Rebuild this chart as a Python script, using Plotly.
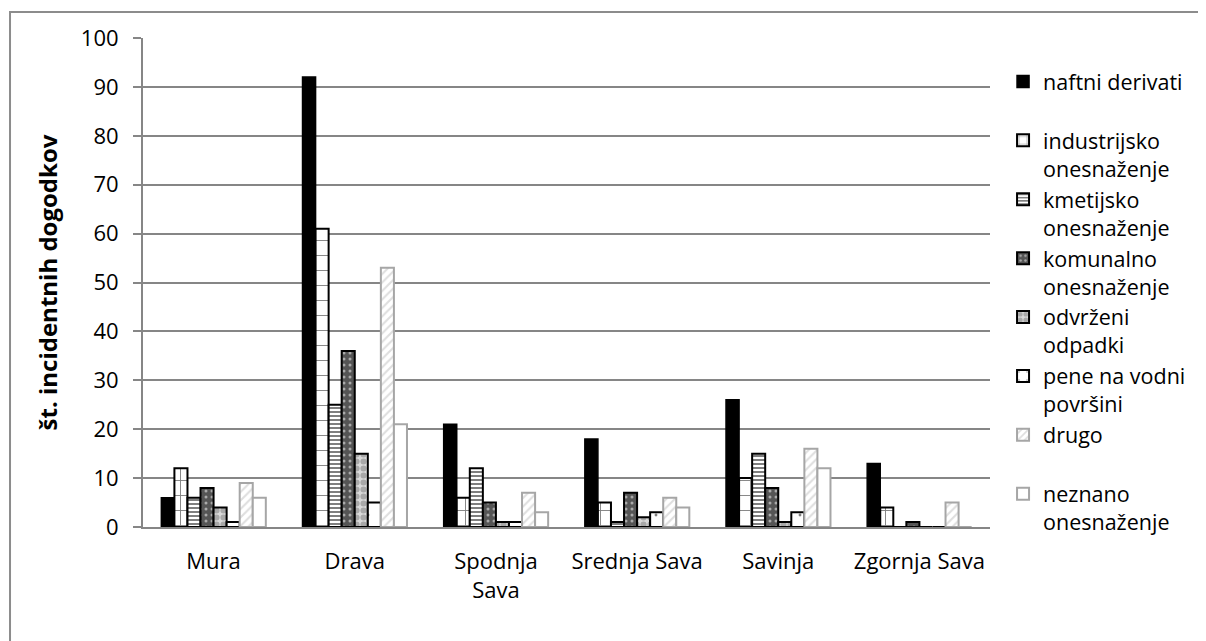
import plotly.graph_objects as go

rivers = ["Mura", "Drava", "Spodnja<br>Sava", "Srednja Sava", "Savinja", "Zgornja Sava"]

naftni_derivati = [6, 92, 21, 18, 26, 13]
industrijsko = [12, 61, 6, 5, 10, 4]
kmetijsko = [6, 25, 12, 1, 15, 0]
komunalno = [8, 36, 5, 7, 8, 1]
odvrzeni_odpadki = [4, 15, 1, 2, 1, 0]
pene = [1, 5, 1, 3, 3, 0]
drugo = [9, 53, 7, 6, 16, 5]
neznano = [6, 21, 3, 4, 12, 0]

series = [
    ("naftni derivati<br> ", naftni_derivati,
     dict(color="black", line=dict(color="black", width=1.5))),
    ("industrijsko<br>onesnaženje", industrijsko,
     dict(color="white", line=dict(color="black", width=2),
          pattern=dict(shape="+", fgcolor="black", bgcolor="white", size=15, solidity=0.12))),
    ("kmetijsko<br>onesnaženje", kmetijsko,
     dict(color="white", line=dict(color="black", width=2),
          pattern=dict(shape="-", fgcolor="black", bgcolor="white", size=4, solidity=0.5))),
    ("komunalno<br>onesnaženje", komunalno,
     dict(color="#555555", line=dict(color="black", width=2),
          pattern=dict(shape=".", fgcolor="white", bgcolor="#555555", size=6, solidity=0.2))),
    ("odvrženi<br>odpadki", odvrzeni_odpadki,
     dict(color="white", line=dict(color="black", width=2),
          pattern=dict(shape=".", fgcolor="#777777", bgcolor="#d9d9d9", size=7, solidity=0.6))),
    ("pene na vodni<br>površini", pene,
     dict(color="white", line=dict(color="black", width=2),
          pattern=dict(shape=".", fgcolor="black", bgcolor="white", size=18, solidity=0.02))),
    ("drugo<br> ", drugo,
     dict(color="white", line=dict(color="#a6a6a6", width=2),
          pattern=dict(shape="/", fgcolor="#bdbdbd", bgcolor="white", size=6, solidity=0.35))),
    ("neznano<br>onesnaženje", neznano,
     dict(color="white", line=dict(color="#a6a6a6", width=2))),
]

fig = go.Figure()
for name, vals, marker in series:
    fig.add_trace(go.Bar(x=rivers, y=vals, name=name, marker=marker))

font = "'Open Sans', Lato, sans-serif"

# page has an 8px body margin, so the figure is a bit smaller than the window
fig.update_layout(
    width=1198,
    height=633,
    barmode="group",
    bargap=0.26,
    bargroupgap=0,
    paper_bgcolor="white",
    plot_bgcolor="white",
    font=dict(family=font, size=22, color="black"),
    margin=dict(l=135, r=216, t=30, b=114, autoexpand=False),
    showlegend=True,
    legend=dict(
        x=1.0154, xanchor="left", y=0.953, yanchor="top",
        valign="top", tracegroupgap=0, maxheight=620,
        font=dict(size=21.5),
        bgcolor="rgba(0,0,0,0)",
    ),
    yaxis=dict(
        range=[0, 100], dtick=10,
        showgrid=True, gridcolor="#868686", gridwidth=1.5,
        showline=True, linecolor="#868686", linewidth=2,
        ticks="outside", ticklen=8, tickcolor="#868686", tickwidth=1.5,
        zeroline=False,
        tickfont=dict(size=22), ticklabelstandoff=10,
        title=dict(text="<b>št. incidentnih dogodkov</b>", font=dict(size=24), standoff=16),
    ),
    xaxis=dict(
        showline=True, linecolor="#868686", linewidth=2,
        ticks="", ticklabelstandoff=14,
    ),
    shapes=[dict(
        type="rect", xref="paper", yref="paper",
        x0=-0.157, x1=1.3, y0=-0.3, y1=1.053,
        line=dict(color="#8c8c8c", width=2), fillcolor="rgba(0,0,0,0)",
        layer="below",
    )],
)

fig.write_html("out.html")
